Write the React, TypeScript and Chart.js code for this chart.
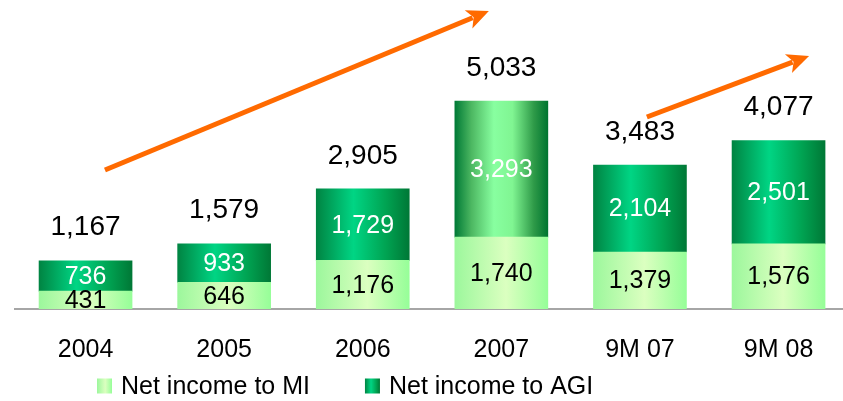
import React, { useEffect, useRef } from "react";
import { Chart, registerables } from "chart.js";

Chart.register(...registerables);

const categories = ["2004", "2005", "2006", "2007", "9M 07", "9M 08"];
const netIncomeMI = [431, 646, 1176, 1740, 1379, 1576];
const netIncomeAGI = [736, 933, 1729, 3293, 2104, 2501];
const totals = [1167, 1579, 2905, 5033, 3483, 4077];
const seriesNames = ["Net income to MI", "Net income to AGI"];
// trend arrows in data coordinates: [xFrom, yFrom, xTo, yTo]
const trendArrows = [
  [0.14, 3364, 2.91, 7212],
  [4.05, 4646, 5.22, 6123],
];

const FONT = "'Liberation Sans', Arial, sans-serif";
const BAR_W = 93;

function fmt(v: number) {
  return v.toLocaleString("en-US");
}

function miGradient(ctx: CanvasRenderingContext2D, cx: number, w: number) {
  const g = ctx.createLinearGradient(cx - w / 2, 0, cx + w / 2, 0);
  g.addColorStop(0, "#9CF79C");
  g.addColorStop(0.55, "#DBFFC0");
  g.addColorStop(1, "#96FE98");
  return g;
}

function agiGradient(ctx: CanvasRenderingContext2D, cx: number, w: number, light: boolean) {
  const g = ctx.createLinearGradient(cx - w / 2, 0, cx + w / 2, 0);
  if (light) {
    g.addColorStop(0, "#007A36");
    g.addColorStop(0.18, "#4DB862");
    g.addColorStop(0.42, "#88FFA0");
    g.addColorStop(0.62, "#80F592");
    g.addColorStop(0.85, "#2E9A48");
    g.addColorStop(1, "#007530");
  } else {
    g.addColorStop(0, "#008442");
    g.addColorStop(0.4, "#00D584");
    g.addColorStop(0.75, "#00A352");
    g.addColorStop(1, "#007836");
  }
  return g;
}

// apply per-bar horizontal gradients once element positions are known
const gradientPlugin = {
  id: "barGradients",
  beforeDatasetsDraw(chart: any) {
    const ctx = chart.ctx;
    chart.data.datasets.forEach((_ds: any, di: number) => {
      const meta = chart.getDatasetMeta(di);
      meta.data.forEach((el: any, i: number) => {
        if (!Number.isFinite(el.x)) return;
        const w = el.width || BAR_W;
        el.options = Object.assign(Object.create(Object.getPrototypeOf(el.options)), el.options, {
          backgroundColor: di === 0 ? miGradient(ctx, el.x, w) : agiGradient(ctx, el.x, w, i === 3),
        });
      });
    });
  },
};

const labelPlugin = {
  id: "labels",
  afterDatasetsDraw(chart: any) {
    const ctx = chart.ctx;
    ctx.save();
    ctx.textAlign = "center";
    ctx.textBaseline = "middle";
    chart.data.datasets.forEach((ds: any, di: number) => {
      const meta = chart.getDatasetMeta(di);
      meta.data.forEach((el: any, i: number) => {
        ctx.font = `25px ${FONT}`;
        ctx.fillStyle = di === 0 ? "#000000" : "#FFFFFF";
        ctx.fillText(fmt(ds.data[i].y), el.x, (el.y + el.base) / 2 + 1);
      });
    });
    const top = chart.getDatasetMeta(1);
    top.data.forEach((el: any, i: number) => {
      ctx.font = `28px ${FONT}`;
      ctx.fillStyle = "#000000";
      ctx.fillText(fmt(totals[i]), el.x, el.y - 33);
    });
    ctx.restore();
  },
};

const arrowPlugin = {
  id: "arrows",
  afterDraw(chart: any) {
    const ctx = chart.ctx;
    const xs = chart.scales.x;
    const ys = chart.scales.y;
    ctx.save();
    trendArrows.forEach(([x0, y0, x1, y1]) => {
      const ax = xs.getPixelForValue(x0);
      const ay = ys.getPixelForValue(y0);
      const bx = xs.getPixelForValue(x1);
      const by = ys.getPixelForValue(y1);
      const ang = Math.atan2(by - ay, bx - ax);
      const headL = 22;
      const headW = 10;
      const ex = bx - Math.cos(ang) * headL * 0.8;
      const ey = by - Math.sin(ang) * headL * 0.8;
      ctx.strokeStyle = "#FF6A00";
      ctx.fillStyle = "#FF6A00";
      ctx.lineWidth = 5;
      ctx.beginPath();
      ctx.moveTo(ax, ay);
      ctx.lineTo(ex, ey);
      ctx.stroke();
      const bxh = bx - Math.cos(ang) * headL;
      const byh = by - Math.sin(ang) * headL;
      ctx.beginPath();
      ctx.moveTo(bx, by);
      ctx.lineTo(bxh + Math.sin(ang) * headW, byh - Math.cos(ang) * headW);
      ctx.lineTo(bx - Math.cos(ang) * headL * 0.75, by - Math.sin(ang) * headL * 0.75);
      ctx.lineTo(bxh - Math.sin(ang) * headW, byh + Math.cos(ang) * headW);
      ctx.closePath();
      ctx.fill();
    });
    ctx.restore();
  },
};

const legendPlugin = {
  id: "customLegend",
  afterDraw(chart: any) {
    const ctx = chart.ctx;
    const cy = 386;
    let x = 97;
    const size = 15;
    ctx.save();
    ctx.font = `25px ${FONT}`;
    ctx.textBaseline = "middle";
    ctx.textAlign = "left";
    seriesNames.forEach((name, i) => {
      const cx = x + size / 2;
      ctx.fillStyle = i === 0 ? miGradient(ctx, cx, size) : agiGradient(ctx, cx, size, false);
      ctx.fillRect(x, cy - size / 2, size, size);
      ctx.fillStyle = "#000";
      ctx.fillText(name, x + size + 9, cy + 1);
      x += size + 9 + ctx.measureText(name).width + 55;
    });
    ctx.restore();
  },
};

export default function App() {
  const ref = useRef<HTMLCanvasElement | null>(null);
  useEffect(() => {
    document.body.style.margin = "0";
    const canvas = ref.current!;
    const chart = new Chart(canvas, {
      type: "bar",
      data: {
        datasets: [
          {
            label: seriesNames[0],
            data: netIncomeMI.map((v, i) => ({ x: i, y: v })),
            backgroundColor: "#B8FFB0",
            barThickness: BAR_W,
            borderWidth: 0,
          },
          {
            label: seriesNames[1],
            data: netIncomeAGI.map((v, i) => ({ x: i, y: v })),
            backgroundColor: "#00B060",
            barThickness: BAR_W,
            borderWidth: 0,
          },
        ],
      },
      options: {
        animation: false,
        responsive: true,
        maintainAspectRatio: false,
        layout: { padding: { left: 15, right: 0, top: 0, bottom: 10 } },
        plugins: { legend: { display: false }, tooltip: { enabled: false } },
        scales: {
          x: {
            type: "linear",
            stacked: true,
            offset: false,
            min: -0.509,
            max: 5.465,
            grid: { display: false, drawTicks: false, offset: false },
            border: { display: true, color: "#A6A6A6", width: 2 },
            ticks: {
              stepSize: 1,
              autoSkip: false,
              includeBounds: false,
              maxRotation: 0,
              color: "#000",
              padding: 26,
              font: { size: 25, family: FONT },
              callback: (v: any) => (Number.isInteger(v) && categories[v] !== undefined ? categories[v] : ""),
            },
          },
          y: {
            stacked: true,
            display: false,
            min: 0,
            max: 7477,
          },
        },
      } as any,
      plugins: [gradientPlugin, labelPlugin, arrowPlugin, legendPlugin],
    });
    return () => chart.destroy();
  }, []);
  return (
    <div style={{ position: "fixed", left: 0, top: 0, width: 843, height: 401, background: "#fff" }}>
      <canvas ref={ref} />
    </div>
  );
}
